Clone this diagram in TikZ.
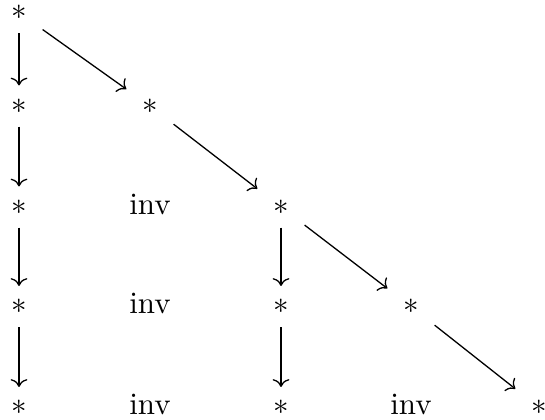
\documentclass[tikz,border=0pt]{standalone}
\usetikzlibrary{arrows.meta}
\begin{document}
\begin{tikzpicture}[x=0.32294pt,y=-0.32294pt,
  star/.style={rectangle,inner sep=0pt,minimum width=14.86pt,minimum height=12.92pt},
  lbl/.style={anchor=base,inner sep=0pt},
  arr/.style={-{Computer Modern Rightarrow[width=5.4pt,length=2.5pt]},line width=0.42pt}]
\useasboundingbox (0,0) rectangle (545,419);
% row 0
\node[star] (n00) at (19,12.7) {$*$};
% row 1
\node[star] (n10) at (19,106) {$*$};
\node[star] (n11) at (150,106) {$*$};
% row 2
\node[star] (n20) at (19,207) {$*$};
\node[lbl]  (n21) at (150,214) {inv};
\node[star] (n22) at (281,207) {$*$};
% row 3
\node[star] (n30) at (19,306.5) {$*$};
\node[lbl]  (n31) at (150,313.5) {inv};
\node[star] (n32) at (281,306.5) {$*$};
\node[star] (n33) at (411,306.5) {$*$};
% row 4
\node[star] (n40) at (19,407.5) {$*$};
\node[lbl]  (n41) at (150,414.5) {inv};
\node[star] (n42) at (281,407.5) {$*$};
\node[lbl]  (n43) at (411,414.5) {inv};
\node[star] (n44) at (539,407.5) {$*$};
% arrows
\draw[arr] (n00) -- (n10);
\draw[arr] (n10) -- (n20);
\draw[arr] (n20) -- (n30);
\draw[arr] (n30) -- (n40);
\draw[arr] (n00) -- (n11);
\draw[arr] (n11) -- (n22);
\draw[arr] (n22) -- (n32);
\draw[arr] (n32) -- (n42);
\draw[arr] (n22) -- (n33);
\draw[arr] (n33) -- (n44);
\end{tikzpicture}
\end{document}
